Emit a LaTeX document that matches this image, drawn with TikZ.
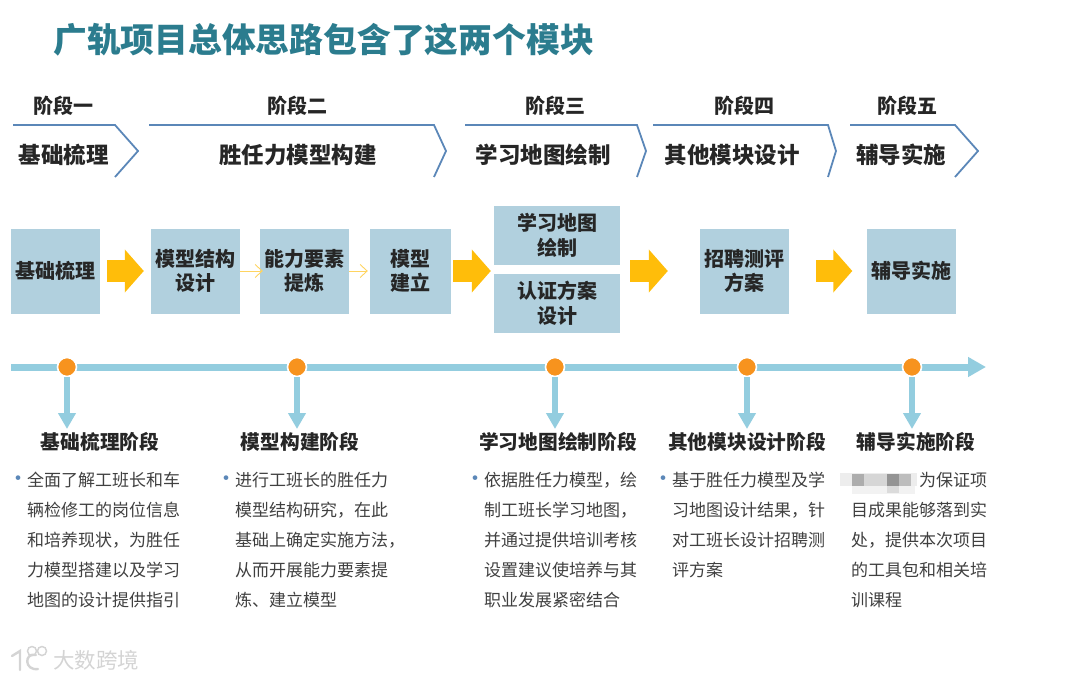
\documentclass[tikz,border=0pt]{standalone}
\usepackage{fontspec}
\setmainfont{Noto Sans CJK SC}
\usetikzlibrary{arrows.meta,positioning}
\definecolor{titleteal}{HTML}{2B7C8E}
\definecolor{chevblue}{HTML}{5B87B8}
\definecolor{boxblue}{HTML}{B1D0DE}
\definecolor{fatyellow}{HTML}{FFBD0A}
\definecolor{lineblue}{HTML}{93CDDF}
\definecolor{dotorange}{HTML}{F7931E}
\definecolor{bodygray}{HTML}{404040}
\definecolor{markgray}{HTML}{D4D4D4}
\tikzset{
  chevron/.style={draw=chevblue,line width=1.8pt},
  phaselabel/.style={font=\fontsize{20}{24}\selectfont\bfseries,text=black!85},
  chevtext/.style={font=\fontsize{22.5}{26}\selectfont\bfseries,text=black!85},
  stagebox/.style={fill=boxblue,inner sep=0pt,align=center,font=\fontsize{20}{24.5}\selectfont\bfseries,text=black!85},
  fatarrow/.style={draw=fatyellow,line width=22pt,-{Triangle[length=19pt,width=42pt,fill=fatyellow]}},
  thinarrow/.style={draw=fatyellow!65,line width=0.9pt,-{Straight Barb[length=7pt,width=13pt]}},
  timeline/.style={draw=lineblue,line width=7pt,-{Triangle[length=18pt,width=19pt,fill=lineblue]}},
  droparrow/.style={draw=lineblue,line width=5.5pt,-{Triangle[length=16pt,width=17pt,fill=lineblue]}},
  dotnode/.style={circle,fill=dotorange,draw=white,line width=1.6pt,minimum size=19pt,inner sep=0pt},
  headtext/.style={font=\fontsize{19.7}{24}\selectfont\bfseries,text=black!85},
  bodytext/.style={anchor=north west,inner sep=0pt,align=left,font=\fontsize{17}{30}\selectfont,text=bodygray},
  bulletmark/.style={inner sep=0pt,font=\fontsize{22}{22}\selectfont,text=chevblue}
}
\begin{document}
\begin{tikzpicture}[x=1pt,y=-1pt]
\useasboundingbox (0,0) rectangle (1080,680);
\node[anchor=west,inner sep=0pt,font=\fontsize{33.8}{38}\selectfont\bfseries,text=titleteal] (title) at (53,40) {广轨项目总体思路包含了这两个模块};

\foreach \sx/\bx/\tx in {13/115/138,149/434/446,465/637/646,653/828/836,850/955/978}
  \draw[chevron] (\sx,125) -- (\bx,125) -- (\tx,151) -- (\bx,177);
\node[phaselabel] (phasea) at (64,106) {阶段一};
\node[phaselabel] (phaseb) at (297,106) {阶段二};
\node[phaselabel] (phasec) at (555,106) {阶段三};
\node[phaselabel] (phased) at (744,106) {阶段四};
\node[phaselabel] (phasee) at (907,106) {阶段五};
\node[chevtext] (chevea) at (64,155) {基础梳理};
\node[chevtext] (cheveb) at (298,155) {胜任力模型构建};
\node[chevtext] (chevec) at (543,155) {学习地图绘制};
\node[chevtext] (cheved) at (732,155) {其他模块设计};
\node[chevtext] (chevee) at (901,155) {辅导实施};

\node[stagebox,minimum width=89pt,minimum height=85pt] (basebox) at (55.5,271) {基础梳理};
\node[stagebox,minimum width=89pt,minimum height=85pt] (structbox) at (195.5,271) {模型结构\\设计};
\node[stagebox,minimum width=89pt,minimum height=85pt] (abilitybox) at (304.5,271) {能力要素\\提炼};
\node[stagebox,minimum width=81pt,minimum height=85pt] (modelbox) at (410.5,271) {模型\\建立};
\node[stagebox,minimum width=126pt,minimum height=59pt] (mapbox) at (557,235.5) {学习地图\\绘制};
\node[stagebox,minimum width=126pt,minimum height=59pt] (certbox) at (557,303.5) {认证方案\\设计};
\node[stagebox,minimum width=89pt,minimum height=85pt] (hirebox) at (744.5,271) {招聘测评\\方案};
\node[stagebox,minimum width=89pt,minimum height=85pt] (tutorbox) at (911,271) {辅导实施};

\coordinate (mapmid) at (620,271);
\draw[fatarrow] ([xshift=7pt]basebox.east) -- ([xshift=-7pt]structbox.west);
\draw[thinarrow] (structbox.east) -- ([xshift=3pt]abilitybox.west);
\draw[thinarrow] (abilitybox.east) -- ([xshift=-2pt]modelbox.west);
\draw[fatarrow] ([xshift=2pt]modelbox.east) -- ([xshift=-3pt]certbox.west |- modelbox.east);
\draw[fatarrow] ([xshift=10pt]mapmid) -- ([xshift=-32pt]hirebox.west);
\draw[fatarrow] ([xshift=27pt]hirebox.east) -- ([xshift=-14pt]tutorbox.west);

\coordinate (linestart) at (11,367);
\coordinate (lineend) at (986,367);
\draw[timeline] (linestart) -- (lineend);
\foreach \n/\x in {a/67,b/297,c/555,d/747,e/912} {
  \coordinate (drop\n) at (\x,429);
  \node[dotnode] (dot\n) at (\x,367) {};
  \draw[droparrow] (dot\n) -- (drop\n);
}

\node[headtext] (heada) at (100,442) {基础梳理阶段};
\node[headtext] (headb) at (300,442) {模型构建阶段};
\node[headtext] (headc) at (558,442) {学习地图绘制阶段};
\node[headtext] (headd) at (747,442) {其他模块设计阶段};
\node[headtext] (heade) at (916,442) {辅导实施阶段};

\foreach \x in {19,226,475,663}
  \node[bulletmark] at (\x,481) {•};
\node[bodytext] (bodya) at (27,472) {全面了解工班长和车\\辆检修工的岗位信息\\和培养现状，为胜任\\力模型搭建以及学习\\地图的设计提供指引};
\node[bodytext] (bodyb) at (235,472) {进行工班长的胜任力\\模型结构研究，在此\\基础上确定实施方法，\\从而开展能力要素提\\炼、建立模型};
\node[bodytext] (bodyc) at (484,472) {依据胜任力模型，绘\\制工班长学习地图，\\并通过提供培训考核\\设置建议使培养与其\\职业发展紧密结合};
\node[bodytext] (bodyd) at (672,472) {基于胜任力模型及学\\习地图设计结果，针\\对工班长设计招聘测\\评方案};
\node[bodytext] (bodye) at (851,472) {\hspace{68pt}为保证项\\目成果能够落到实\\处，提供本次项目\\的工具包和相关培\\训课程};

\fill[black!7] (840,473) rectangle (917,486);
\fill[black!5] (852,486) rectangle (915,494);
\foreach \x/\w/\g in {852/12/32,864/24/16,887/12/42,899/12/26}
  \fill[black!\g] (\x,474) rectangle ++(\w,12);
\fill[black!14] (887,486) rectangle ++(12,7);

\draw[markgray,line width=2.4pt,line cap=round] (12,656) -- (20,651) -- (20,670);
\draw[markgray,line width=2.4pt,line cap=round] (36,655) .. controls (24,652) and (24,671) .. (38,669);
\draw[markgray,line width=1.5pt] (32,651) circle (4.5pt) (42,651) circle (4.5pt);
\node[inner sep=0pt,font=\fontsize{21.5}{24}\selectfont,text=markgray] (markname) at (96,660) {大数跨境};
\end{tikzpicture}
\end{document}
